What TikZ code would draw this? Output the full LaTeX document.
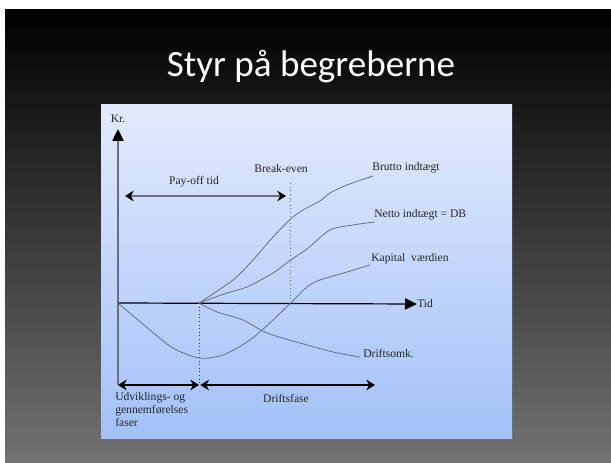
\documentclass[tikz,border=0pt]{standalone}
\usepackage{fontspec}
\setmainfont{Liberation Serif}
\newfontfamily\titlefont{Carlito}
\usetikzlibrary{arrows.meta}

\definecolor{slidebot}{HTML}{727272}
\definecolor{paneltop}{HTML}{E2EAFC}
\definecolor{panelbot}{HTML}{A2C1F9}
\definecolor{curvegray}{HTML}{687080}

\begin{document}
\begin{tikzpicture}[x=0.75pt, y=-0.75pt,
	lbl/.style={font=\fontsize{8.7}{10}\selectfont, text=black!85, inner sep=0pt},
	fn/.style={curvegray, line width=0.6pt},
	axis/.style={line width=0.9pt, -{Triangle[length=9pt, width=8.5pt, color=black]}},
	span/.style={line width=0.9pt, {Stealth[length=6.5pt, width=8pt, color=black]}-{Stealth[length=6.5pt, width=8pt, color=black]}},
	dotline/.style={dotted, line width=0.7pt}]
	\useasboundingbox (0,0) rectangle (611,463);
	\fill[white] (0,0) rectangle (611,463);
	\shade[top color=black, bottom color=slidebot] (5,10) rectangle (611,463);
	\node[font=\titlefont\fontsize{27.8}{32}\selectfont, text=white, anchor=base] (title) at (311,77) {Styr på begreberne};
	\shade[top color=paneltop, bottom color=panelbot] (101,105) rectangle (512,439);

	\node[lbl] (Kr) at (118,119) {Kr.};
	\node[lbl, anchor=west] (Tid) at (417,304) {Tid};
	\node[lbl] (PayOff) at (194,182) {Pay-off tid};
	\node[lbl] (BreakEven) at (281,169) {Break-even};
	\node[lbl, anchor=west] (Brutto) at (372,168) {Brutto indtægt};
	\node[lbl, anchor=west] (Netto) at (374,215) {Netto indtægt = DB};
	\node[lbl, anchor=west] (Kapital) at (371,259) {Kapital\ \ værdien};
	\node[lbl, anchor=west] (Drift) at (363,353) {Driftsomk.};
	\node[lbl] (Driftsfase) at (286,398) {Driftsfase};
	\node[lbl, anchor=north west, align=left] (Udv) at (115,392) {Udviklings- og\\gennemførelses\\faser};

	\coordinate (O) at (118,303);
	\coordinate (Ytop) at (118,129);
	\coordinate (Ybot) at (118,385);
	\coordinate (S) at (199,303);
	\coordinate (Sbot) at (199,385);
	\coordinate (BE) at (290.7,303);
	\coordinate (BEtop) at (290.7,183);
	\coordinate (PayL) at (125,196);
	\coordinate (PayR) at (286,196);
	\coordinate (DriftEnd) at (375,385);

	\draw[fn, axis] (Ybot) -- (Ytop);
	\draw[axis] (O) -- (Tid.west);
	\draw[fn, span] (PayL) -- (PayR);
	\draw[curvegray, dotline] (BE) -- (BEtop);
	\draw[black!80, dotline] (S) -- (Sbot);
	\draw[span] (Ybot) -- (Sbot);
	\draw[span] ([xshift=1]Sbot) -- (DriftEnd);

	\draw[fn] plot[smooth] coordinates {(S) (233,280) (253,260) (273,237) (290.7,219) (303,210) (320,201) (330,193) (347,185) (373,176)};
	\draw[fn] plot[smooth] coordinates {(S) (227,293) (247,287) (273,273) (290.7,260) (307,249) (330,230) (353,225) (375,222)};
	\draw[fn] plot[smooth] coordinates {(O) (150,330) (173,348) (199,358) (223,355) (250,340) (273,320) (BE) (307,287) (320,280) (347,272) (370,265)};
	\draw[fn] plot[smooth] coordinates {(S) (217,312) (243,320) (267,333) (300,343) (333,352) (360,357)};
\end{tikzpicture}
\end{document}
